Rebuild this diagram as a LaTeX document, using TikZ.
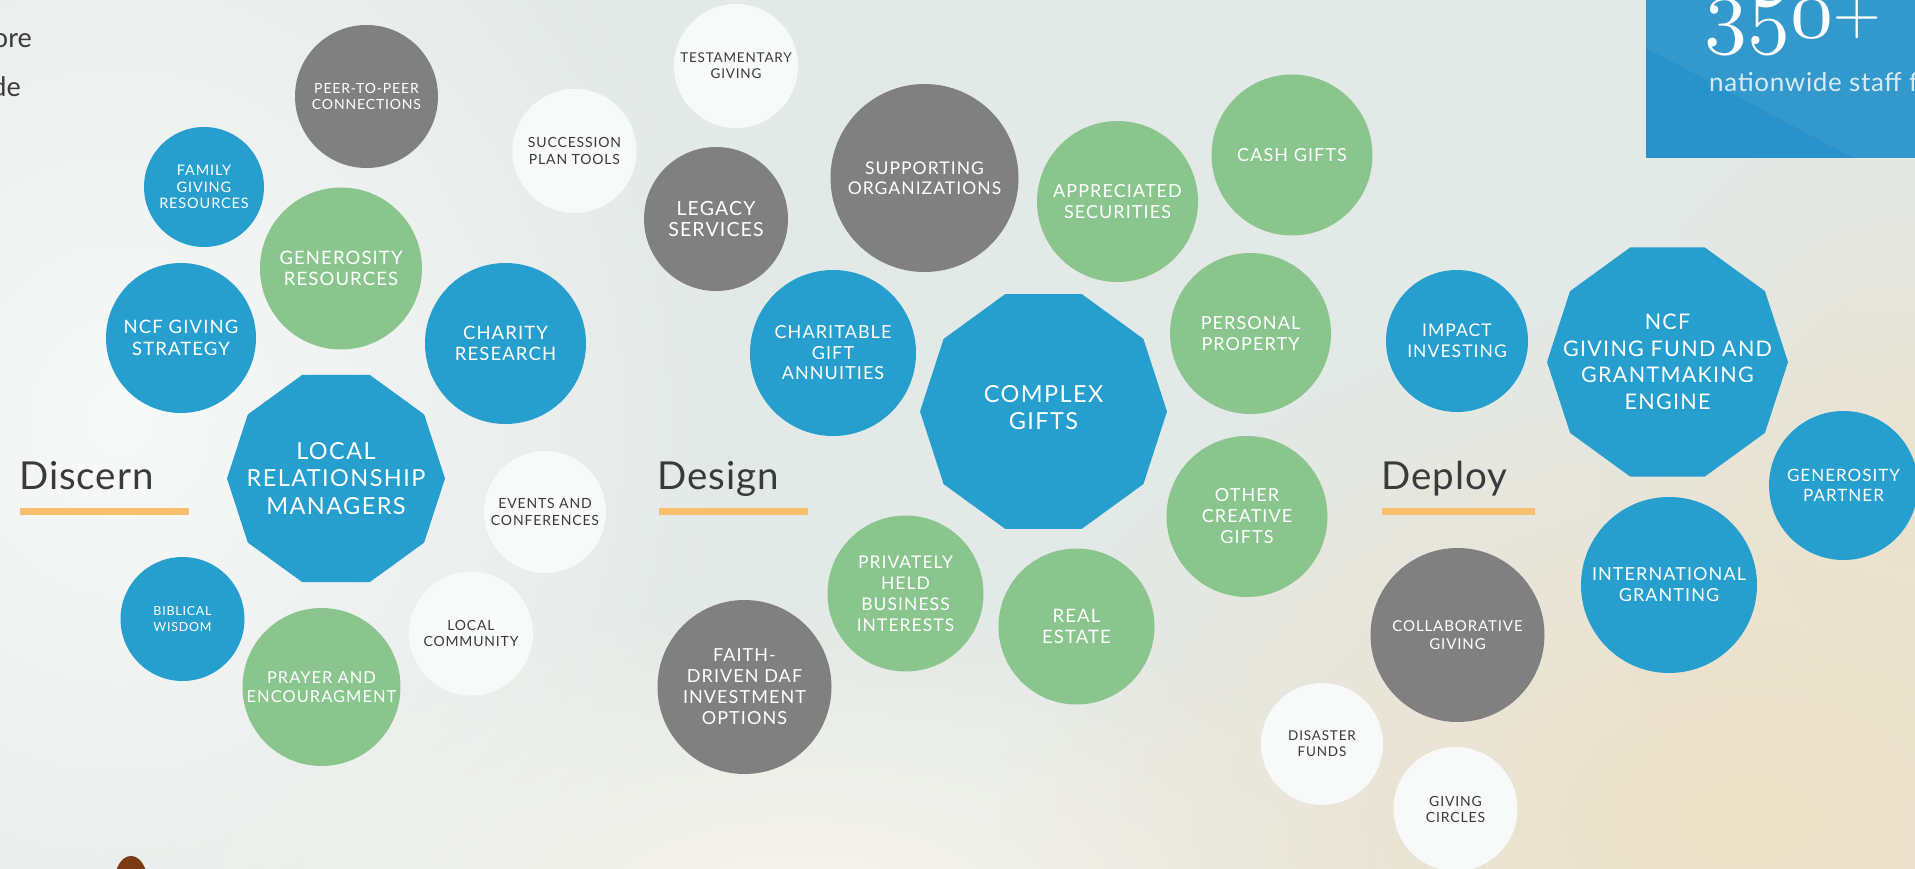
\documentclass[tikz,border=0pt]{standalone}
\usepackage{fontspec}
\newfontfamily\bubfont{Lato}[LetterSpace=6]
\newfontfamily\labfont{Lato}
\newfontfamily\secfont{Lato}[LetterSpace=2.5]
\usetikzlibrary{shapes.geometric,fadings}
\tikzfading[name=softout, inner color=transparent!0, outer color=transparent!100]
\definecolor{nblue}{HTML}{269FCF}
\definecolor{ngreen}{HTML}{8AC58E}
\definecolor{ngray}{HTML}{808080}
\definecolor{nwhite}{HTML}{F8FAFA}
\definecolor{ntext}{HTML}{3A3A3A}
\definecolor{norange}{HTML}{F9BE6E}
\definecolor{bgbase}{HTML}{E3E9E7}
\definecolor{bgwhite}{HTML}{F8F9F9}
\definecolor{bgcream}{HTML}{F6F4EC}
\definecolor{bgbeige}{HTML}{EEE1C6}
\definecolor{boxblue}{HTML}{3398CB}
\definecolor{boxblue2}{HTML}{2793CA}
\definecolor{boxtext}{HTML}{D5EBF7}
\definecolor{hair}{HTML}{7B3A14}
\begin{document}
\begin{tikzpicture}[x=1pt,y=-1pt,
  bub/.style={circle, inner sep=0pt, align=center, minimum size=#1},
  dec/.style={regular polygon, regular polygon sides=10, inner sep=0pt, minimum size=#1},
  dectext/.style={inner sep=0pt, align=center, text=white},
  fs/.style 2 args={font={\bubfont\fontsize{#1}{#2}\selectfont}},
  cblue/.style={fill=nblue, text=white},
  cgreen/.style={fill=ngreen, text=white},
  cgray/.style={fill=ngray, text=white},
  cwhite/.style={fill=nwhite, text=ntext},
  sectlbl/.style={anchor=base west, inner sep=0pt, text=ntext, font={\secfont\fontsize{38.5}{40}\selectfont}},
  sideline/.style={anchor=base east, inner sep=0pt, text=ntext, font={\labfont\fontsize{27}{30}\selectfont}}
]
\useasboundingbox (0,0) rectangle (1915,869);
\clip (0,0) rectangle (1915,869);
% background
\fill[bgbase] (0,0) rectangle (1915,869);
\fill[bgwhite, path fading=softout] (120,420) ellipse [x radius=620, y radius=700];
\fill[bgcream, path fading=softout] (800,900) ellipse [x radius=700, y radius=300];
\fill[bgbeige, path fading=softout] (1750,820) ellipse [x radius=750, y radius=520];
\fill[bgbeige, opacity=0.6, path fading=softout] (1900,500) ellipse [x radius=300, y radius=400];

% top-left cut text
\node[sideline] (tl1) at (32,48) {ore};
\node[sideline] (tl2) at (21,97) {de};

% top-right stat box
\fill[boxblue] (1646,0) rectangle (1915,158);
\fill[boxblue2] (1646,48) -- (1853,158) -- (1646,158) -- cycle;
\node[anchor=base west, inner sep=0pt, text=white] (num) at (1704,38) {\scalebox{8.6}{\fontsize{10}{10}\usefont{OML}{cmm}{m}{it}350}\raisebox{3pt}{\fontsize{66}{66}\usefont{TU}{lmr}{m}{n}+}};
\node[anchor=base west, inner sep=0pt, text=boxtext, font={\secfont\fontsize{26}{28}\selectfont}] (staff) at (1709,92) {nationwide staff f};

% head at bottom
\fill[hair] (131,880) ellipse [x radius=16, y radius=24];

% section labels
\node[sectlbl] (discern) at (19,489) {Discern};
\fill[norange] (20,508) rectangle (189,515);
\node[sectlbl] (design) at (657,489) {Design};
\fill[norange] (659,508) rectangle (808,515);
\node[sectlbl] (deploy) at (1381,489) {Deploy};
\fill[norange] (1382,508) rectangle (1535,515);

% Discern
\node[bub=143, cgray, fs={14}{16.5}] (peer) at (366.5,96.5) {PEER-TO-PEER\\CONNECTIONS};
\node[bub=120, cblue, fs={14.5}{16.5}] (family) at (204,187) {FAMILY\\GIVING\\RESOURCES};
\node[bub=162, cgreen, fs={18.5}{21.5}] (genres) at (341,268.5) {GENEROSITY\\RESOURCES};
\node[bub=150, cblue, fs={18.5}{21.5}] (ncfstrat) at (181,338) {NCF GIVING\\STRATEGY};
\node[bub=161, cblue, fs={18.5}{21.5}] (charity) at (505.5,343.5) {CHARITY\\RESEARCH};
\node[dec=218, fill=nblue] (lrm) at (336,478.5) {};
\node[dectext, fs={23.5}{27.5}] (lrmtext) at (lrm.center) {LOCAL\\RELATIONSHIP\\MANAGERS};
\node[bub=122, cwhite, fs={14}{16.5}] (events) at (545,512) {EVENTS AND\\CONFERENCES};
\node[bub=124, cwhite, fs={14}{16.5}] (succession) at (574.5,151) {SUCCESSION\\PLAN TOOLS};
\node[bub=124, cblue, fs={12.5}{16.5}] (biblical) at (182.5,619) {BIBLICAL\\WISDOM};
\node[bub=158, cgreen, fs={16.5}{19}] (prayer) at (321.5,687) {PRAYER AND\\ENCOURAGMENT};
\node[bub=124, cwhite, fs={14}{16.5}] (localcomm) at (471,633.5) {LOCAL\\COMMUNITY};

% Design
\node[bub=124, cwhite, fs={13.5}{16}] (testament) at (736,66) {TESTAMENTARY\\GIVING};
\node[bub=144, cgray, fs={19.5}{21.5}] (legacy) at (716,219) {LEGACY\\SERVICES};
\node[bub=188, cgray, fs={17.5}{20.5}] (supporting) at (924.5,178) {SUPPORTING\\ORGANIZATIONS};
\node[bub=161, cgreen, fs={18}{20.5}] (cash) at (1292,155) {CASH GIFTS};
\node[bub=161, cgreen, fs={18}{20.5}] (appreciated) at (1117.5,201.5) {APPRECIATED\\SECURITIES};
\node[bub=166, cblue, fs={18}{20.5}] (cga) at (833,353) {CHARITABLE\\GIFT\\ANNUITIES};
\node[dec=247, fill=nblue] (complex) at (1043.5,411.5) {};
\node[dectext, fs={23.5}{27.5}] (complextext) at ([yshift=4]complex.center) {COMPLEX\\GIFTS};
\node[bub=161, cgreen, fs={18}{20.5}] (personal) at (1250.5,333.5) {PERSONAL\\PROPERTY};
\node[bub=161, cgreen, fs={18}{21}] (other) at (1247,516.5) {OTHER\\CREATIVE\\GIFTS};
\node[bub=156, cgreen, fs={17.5}{21}] (private) at (905.5,593.5) {PRIVATELY\\HELD\\BUSINESS\\INTERESTS};
\node[bub=156, cgreen, fs={18.5}{21}] (realestate) at (1076.5,626.5) {REAL\\ESTATE};
\node[bub=174, cgray, fs={18}{21}] (faith) at (744.5,687) {FAITH-\\DRIVEN DAF\\INVESTMENT\\OPTIONS};

% Deploy
\node[bub=142, cblue, fs={17.5}{21}] (impact) at (1457,341) {IMPACT\\INVESTING};
\node[dec=241, fill=nblue] (ncffund) at (1667.5,362) {};
\node[dectext, fs={21.5}{26.5}] (ncffundtext) at (ncffund.center) {NCF\\GIVING FUND AND\\GRANTMAKING\\ENGINE};
\node[bub=149, cblue, fs={17}{20.5}] (partner) at (1843.5,485.5) {GENEROSITY\\PARTNER};
\node[bub=176, cblue, fs={18}{21}] (intl) at (1669,585) {INTERNATIONAL\\GRANTING};
\node[bub=174, cgray, fs={15}{17.5}] (collab) at (1457.5,635) {COLLABORATIVE\\GIVING};
\node[bub=122, cwhite, fs={13.5}{16}] (disaster) at (1322,744) {DISASTER\\FUNDS};
\node[bub=124, cwhite, fs={14}{16}] (circles) at (1455.5,809) {GIVING\\CIRCLES};
\end{tikzpicture}
\end{document}
